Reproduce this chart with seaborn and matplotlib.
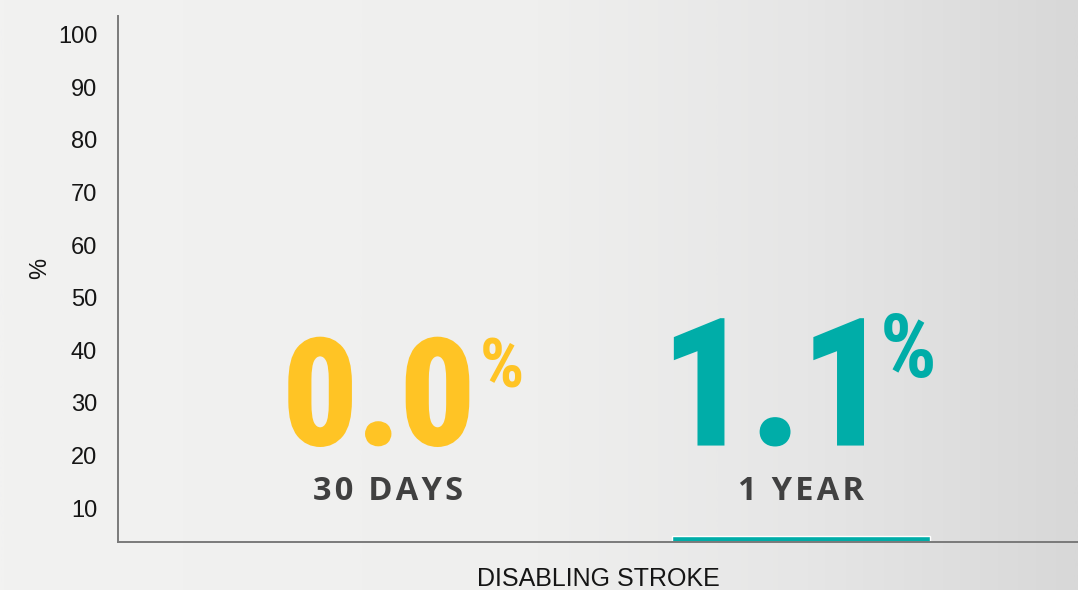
import numpy as np
import matplotlib
matplotlib.use("Agg")
import matplotlib.pyplot as plt
import matplotlib.transforms as mtransforms
import matplotlib.patheffects as pe
from matplotlib.colors import LinearSegmentedColormap
import seaborn as sns

# ---------------------------------------------------------------------------
# Data
# ---------------------------------------------------------------------------
categories = ["30 DAYS", "1 YEAR"]
values = [0.0, 1.1]
value_labels = ["0.0", "1.1"]
bar_colors = ["#FFC425", "#00ADA8"]
y_ticks = [10, 20, 30, 40, 50, 60, 70, 80, 90, 100]
x_title = "DISABLING STROKE"
y_title = "%"

# ---------------------------------------------------------------------------
# Style
# ---------------------------------------------------------------------------
sns.set_theme(style="white")
plt.rcParams["font.family"] = ["Liberation Sans", "DejaVu Sans"]
NUM_FONT = ["Roboto Condensed", "Liberation Sans Narrow", "Liberation Sans", "DejaVu Sans"]
LBL_FONT = ["Open Sans", "DejaVu Sans"]

fig = plt.figure(figsize=(10.78, 5.90), dpi=100)

# soft grey gradient background, light on the left, darker to the right
bg = fig.add_axes([0, 0, 1, 1], zorder=-10)
grad = np.linspace(0, 1, 400).reshape(1, -1)
cmap = LinearSegmentedColormap.from_list(
    "bg", [(0.0, "#f2f2f1"), (0.5, "#efefee"), (0.75, "#e6e6e6"), (1.0, "#d8d8d8")]
)
bg.imshow(grad, aspect="auto", cmap=cmap, extent=[0, 1, 0, 1])
bg.set_axis_off()

ax = fig.add_axes([118 / 1078, 48 / 590, 1 - 118 / 1078, (542 - 16) / 590])
ax.patch.set_alpha(0)

sns.barplot(
    x=categories, y=values, hue=categories, palette=bar_colors,
    width=0.625, legend=False, ax=ax, saturation=1,
)

ax.set_xlim(-0.654, 1.671)
ax.set_ylim(0, 98)

# spines: only left + bottom, grey
for side in ["top", "right"]:
    ax.spines[side].set_visible(False)
for side in ["left", "bottom"]:
    ax.spines[side].set_color("#7a7a7a")
    ax.spines[side].set_linewidth(1.4)
ax.set_zorder(1)

# y ticks: labels only, shifted down a bit like the original slide
ax.set_yticks(y_ticks)
ax.tick_params(axis="y", length=0, pad=15, labelsize=17, labelcolor="#151515")
shift = mtransforms.ScaledTranslation(0, -0.187, fig.dpi_scale_trans)
for lbl in ax.get_yticklabels():
    lbl.set_transform(lbl.get_transform() + shift)
ax.set_xticks([])
ax.set_xlabel(x_title, fontsize=18, color="#151515", labelpad=18)
ax.set_ylabel(y_title, fontsize=17, color="#151515")
ax.yaxis.set_label_coords(-0.07, 0.52)

# big value labels + category names
num_dx = [0.21, 0.215]
pct_dx = [0.222, 0.19]
num_size = [106, 126]
pct_size = [50, 64]
pct_base = [29.3, 31.3]
for i, (cat, lab, col) in enumerate(zip(categories, value_labels, bar_colors)):
    thick = [pe.withStroke(linewidth=2, foreground=col, joinstyle="miter")]
    ax.text(i + num_dx[i], 18.6, lab, ha="right", va="baseline", fontsize=num_size[i],
            fontweight="bold", color=col, family=NUM_FONT, path_effects=thick)
    ax.text(i + pct_dx[i], pct_base[i], "%", ha="left", va="baseline",
            fontsize=pct_size[i], fontweight="bold", color=col, family=NUM_FONT)
    ax.text(i, 8.0, "\u200a".join(cat), ha="center", va="baseline",
            fontsize=23.5, fontweight="bold", color="#404040", family=LBL_FONT)

fig.savefig("out.png", dpi=100)
